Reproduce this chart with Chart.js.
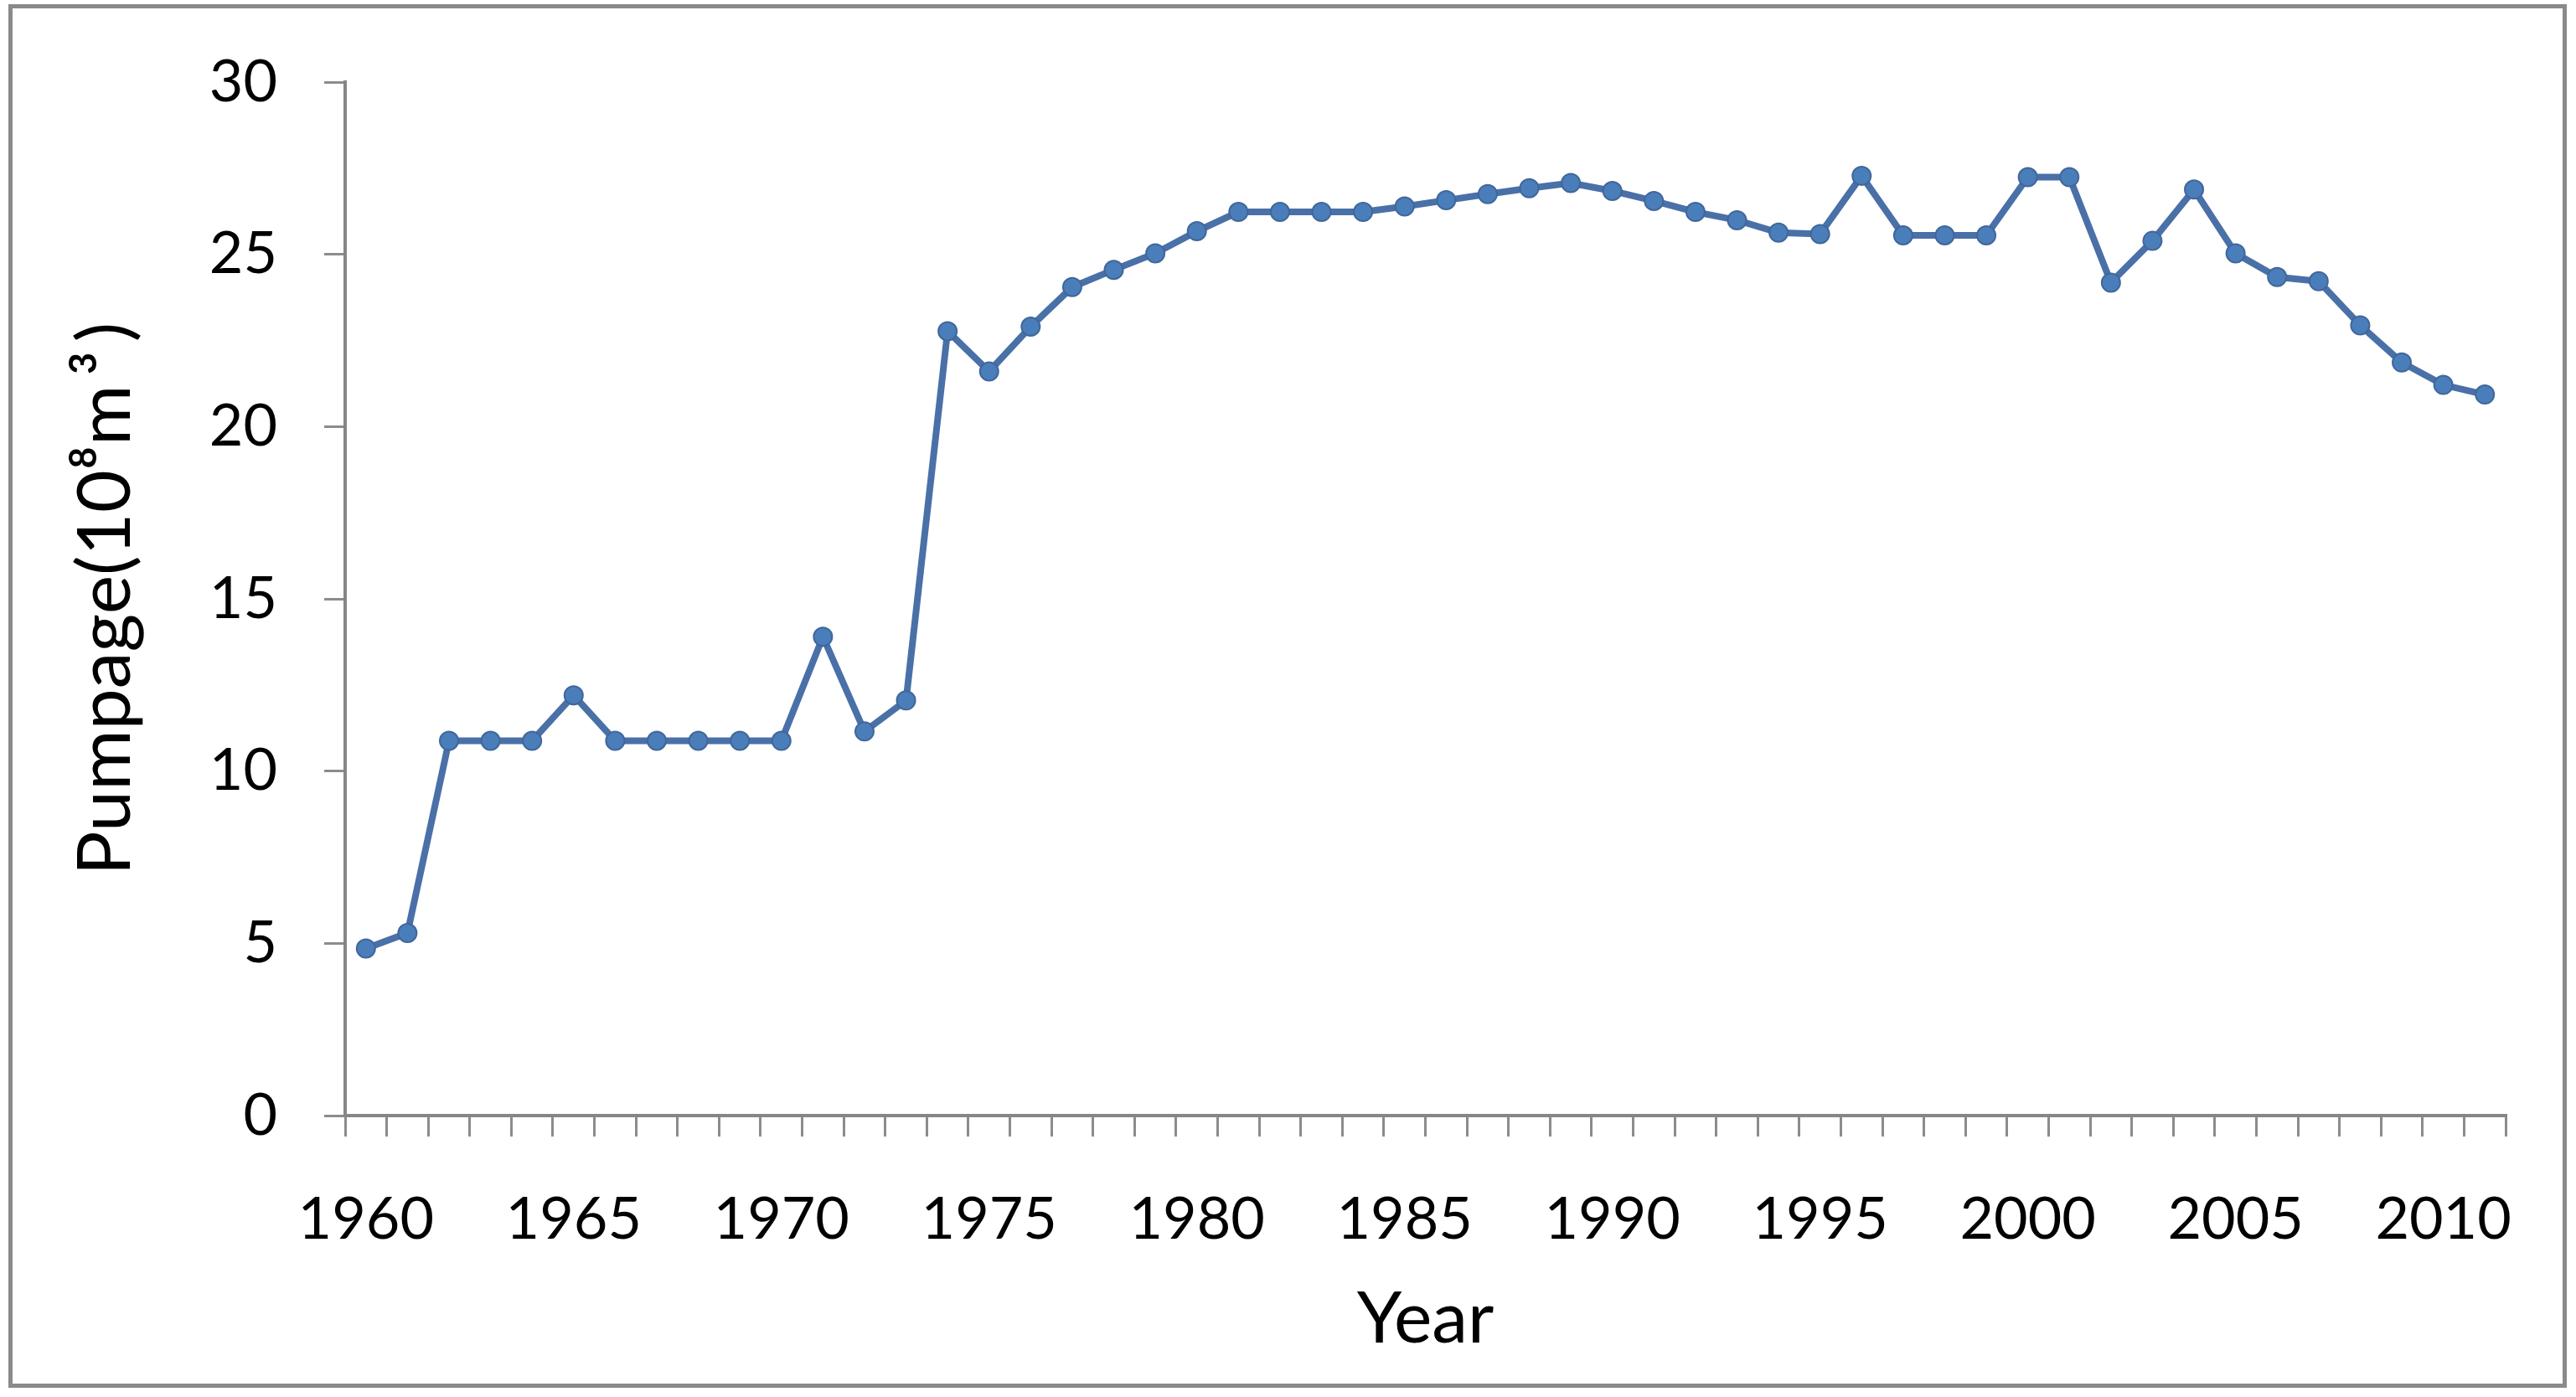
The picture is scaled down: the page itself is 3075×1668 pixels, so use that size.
<!DOCTYPE html>
<html>
<head>
<meta charset="utf-8">
<title>Pumpage 1960-2011</title>
<script src="https://cdn.jsdelivr.net/npm/chart.js@4.4.1/dist/chart.umd.min.js"></script>
<style>
  html, body { margin: 0; padding: 0; background: #fff; }
  #wrap { position: relative; width: 3075px; height: 1668px; }
  #frame {
    position: absolute; left: 10px; top: 5px; width: 3054px; height: 1652px;
    box-sizing: border-box; border: 5px solid #8a8a8a; pointer-events: none;
  }
  canvas { position: absolute; left: 0; top: 0; }
</style>
</head>
<body>
<div id="wrap">
  <canvas id="pumpChart" width="3075" height="1668"></canvas>
  <div id="frame"></div>
</div>
<script>
// ---- data ----
const years = [
  1960, 1961, 1962, 1963, 1964, 1965, 1966, 1967, 1968, 1969,
  1970, 1971, 1972, 1973, 1974, 1975, 1976, 1977, 1978, 1979,
  1980, 1981, 1982, 1983, 1984, 1985, 1986, 1987, 1988, 1989,
  1990, 1991, 1992, 1993, 1994, 1995, 1996, 1997, 1998, 1999,
  2000, 2001, 2002, 2003, 2004, 2005, 2006, 2007, 2008, 2009,
  2010, 2011
];
// pumpage, 10^8 m3
const pumpage = [
  4.85, 5.3, 10.88, 10.88, 10.88, 12.2, 10.88, 10.88, 10.88, 10.88,
  10.88, 13.9, 11.15, 12.05, 22.77, 21.6, 22.9, 24.05, 24.55, 25.03,
  25.67, 26.23, 26.23, 26.23, 26.23, 26.39, 26.57, 26.75, 26.92, 27.07,
  26.84, 26.55, 26.23, 25.99, 25.63, 25.59, 27.28, 25.55, 25.55, 25.55,
  27.24, 27.24, 24.18, 25.39, 26.88, 25.03, 24.34, 24.22, 22.94, 21.86,
  21.21, 20.93
];
const yTicks = [0, 5, 10, 15, 20, 25, 30];
const labelEvery = 5;

const axisGrey = '#868686';
const tickGrey = '#8c8c8c';
const fontFamily = 'Lato, "Open Sans", sans-serif';

new Chart(document.getElementById('pumpChart'), {
  type: 'line',
  data: {
    labels: years,
    datasets: [{
      label: 'Pumpage',
      data: pumpage,
      borderColor: '#4a70a8',
      borderWidth: 8,
      tension: 0,
      pointRadius: 11,
      pointBorderWidth: 2,
      pointBackgroundColor: '#4a7ebb',
      pointBorderColor: '#41679a',
      fill: false,
    }]
  },
  options: {
    responsive: false,
    devicePixelRatio: 1,
    animation: false,
    layout: { padding: { top: 87, right: 84, bottom: 0, left: 0 } },
    plugins: { legend: { display: false }, tooltip: { enabled: false } },
    scales: {
      x: {
        offset: true,
        grid: { offset: true, drawOnChartArea: false, tickLength: 25, color: tickGrey, lineWidth: 3 },
        border: { color: axisGrey, width: 4 },
        ticks: {
          autoSkip: false, maxRotation: 0, minRotation: 0, padding: 57, color: '#000',
          font: { family: fontFamily, size: 70 },
          callback: (v, i) => (years[i] % labelEvery === 0 ? String(years[i]) : ''),
        },
        title: {
          display: true, text: 'Year', color: '#000',
          font: { family: fontFamily, size: 86 },
          padding: { top: 0, bottom: 41 },
        },
        afterFit: s => { s.height = 336; },
      },
      y: {
        min: yTicks[0],
        max: yTicks[yTicks.length - 1],
        afterBuildTicks: s => { s.ticks = yTicks.map(v => ({ value: v })); },
        grid: { drawOnChartArea: false, tickLength: 25, color: tickGrey, lineWidth: 3 },
        border: { color: axisGrey, width: 4 },
        ticks: { padding: 56, color: '#000', font: { family: fontFamily, size: 70 } },
        title: {
          display: true, text: 'Pumpage(10⁸m\u2009³\u2009)', color: '#000',
          font: { family: fontFamily, size: 88 },
          padding: { top: 74, bottom: 0 },
        },
        afterFit: s => { s.width = 412; },
      },
    },
  },
});
</script>
</body>
</html>
